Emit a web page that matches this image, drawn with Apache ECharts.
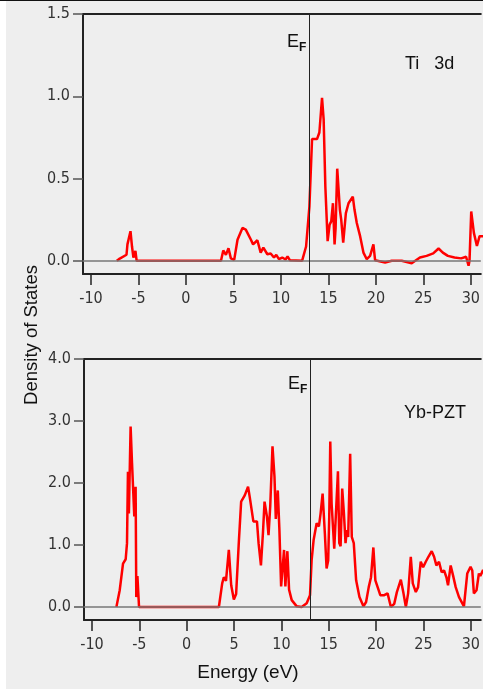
<!DOCTYPE html>
<html>
<head>
<meta charset="utf-8">
<script src="https://cdn.jsdelivr.net/npm/echarts@6/dist/echarts.min.js"></script>
<style>html,body{margin:0;padding:0;background:#fff}#c{width:483px;height:691px}</style>
</head>
<body>
<div id="c"></div>
<script>
// ---- data ----
const xTicks = [-10, -5, 0, 5, 10, 15, 20, 25, 30];
const tiTicks = [0, 0.5, 1.0, 1.5];
const ybTicks = [0, 1.0, 2.0, 3.0, 4.0];
const fermiEnergy = 13.0;

const tiEnergy = [-7.28,-7.06,-6.26,-6.16,-5.84,-5.68,-5.53,-5.32,-5.19,3.69,3.93,4.21,4.48,4.73,5.08,5.43,5.95,6.3,6.83,7.07,7.52,7.87,8.15,8.57,8.92,9.27,9.51,9.79,10.14,10.49,10.7,10.94,12.23,12.65,13.0,13.28,13.45,13.8,14.05,14.33,14.5,14.68,14.92,15.13,15.3,15.48,15.65,15.76,15.93,16.07,16.21,16.35,16.56,16.84,17.12,17.33,17.57,17.75,17.99,18.34,18.69,19.04,19.39,19.74,19.92,20.97,21.67,22.72,23.77,24.64,25.34,26.04,26.6,27.05,27.58,28.28,28.98,29.5,29.76,29.86,30.04,30.32,30.64,30.92,31.3];
const tiDos = [0,0.01,0.037,0.1,0.18,0.087,0.02,0.06,0,0,0.063,0.036,0.077,0.015,0.006,0.128,0.2,0.19,0.13,0.1,0.125,0.05,0.08,0.04,0.045,0.02,0.036,0.01,0.02,0.008,0.027,0.004,0,0.087,0.33,0.74,0.75,0.74,0.78,0.99,0.86,0.45,0.12,0.22,0.24,0.35,0.1,0.2,0.56,0.57,0.31,0.25,0.11,0.29,0.35,0.34,0.39,0.31,0.23,0.15,0.05,0.01,0.03,0.1,0.003,-0.01,0,0,-0.015,0.02,0.03,0.045,0.075,0.05,0.03,0.02,0.015,0.025,-0.03,0.0,0.3,0.17,0.09,0.15,0.15];

const ybEnergy = [-7.42,-7.07,-6.72,-6.44,-6.3,-6.2,-6.1,-5.92,-5.77,-5.67,-5.53,-5.39,-5.32,-5.2,-5.03,3.4,3.75,3.92,4.15,4.45,4.7,4.98,5.22,5.5,5.75,5.96,6.13,6.31,6.48,6.65,6.83,7.04,7.42,7.59,7.84,8.05,8.22,8.47,8.64,8.82,9.06,9.27,9.41,9.62,9.79,9.97,10.11,10.28,10.42,10.63,10.81,11.09,11.62,12.14,12.67,13.02,13.19,13.4,13.72,13.96,14.14,14.35,14.59,14.77,14.94,15.05,15.16,15.3,15.44,15.58,15.76,15.97,16.11,16.25,16.42,16.6,16.77,16.91,17.05,17.26,17.43,17.64,17.89,18.24,18.66,18.94,19.22,19.46,19.71,19.92,20.16,20.44,20.86,21.21,21.56,21.91,22.19,22.61,22.89,23.14,23.38,23.66,23.87,24.19,24.43,24.71,24.96,25.24,25.52,25.87,26.12,26.36,26.64,26.92,27.17,27.42,27.59,27.87,28.12,28.4,28.75,29.27,29.45,29.62,29.8,29.97,30.15,30.32,30.6,30.85,31.0,31.3];
const ybDos = [0,0.27,0.7,0.77,1.03,2.18,1.51,2.91,2.32,2.29,1.46,1.94,0.16,0.5,0,0,0.38,0.48,0.42,0.92,0.35,0.12,0.21,1.03,1.7,1.67,1.8,1.78,1.94,1.78,1.8,1.38,1.38,1.03,0.67,1.19,1.7,1.46,1.16,1.62,2.59,2.1,1.42,1.88,1.24,0.33,0.6,0.92,0.33,0.9,0.28,0.11,0.01,0,0.06,0.19,0.75,1.08,1.35,1.3,1.51,1.83,1.18,0.62,0.75,1.45,2.67,1.67,1.7,0.94,0.92,2.19,1.03,0.98,1.91,1.51,1.03,1.24,1.13,2.47,1.13,1.03,0.43,0.16,0.01,0.08,0.32,0.48,0.96,0.43,0.32,0.19,0.19,0.22,0,0.05,0.24,0.44,0.22,0,0.22,0.81,0.38,0.24,0.32,0.73,0.64,0.73,0.81,0.9,0.81,0.67,0.73,0.56,0.59,0.48,0.35,0.67,0.51,0.32,0.16,0.01,0.03,0.54,0.51,0.65,0.59,0.22,0.27,0.54,0.5,0.6];

// ---- chart ----
const numFont = '"Liberation Sans Narrow", "DejaVu Sans Condensed", "Liberation Sans", Arial, sans-serif';
const txtFont = '"Liberation Sans", Arial, sans-serif';
const XMIN = -10.84, XMAX = 31.05;

function xAxes(gi) {
  return [
    {
      type: 'value', gridIndex: gi, min: XMIN, max: XMAX, position: 'bottom',
      axisLine: { show: true, onZero: false, lineStyle: { color: '#222', width: 2 } },
      axisTick: { show: true, length: 11, customValues: xTicks, lineStyle: { color: '#222', width: 1.5 } },
      axisLabel: { customValues: xTicks, color: '#333', fontFamily: numFont, fontSize: 16, margin: 17 },
      splitLine: { show: false }
    },
    {
      type: 'value', gridIndex: gi, min: XMIN, max: XMAX, position: 'top',
      axisLine: { show: true, onZero: false, lineStyle: { color: '#222', width: 2 } },
      axisTick: { show: false }, axisLabel: { show: false }, splitLine: { show: false }
    }
  ];
}
function yAxis(gi, min, max, ticks) {
  return {
    type: 'value', gridIndex: gi, min: min, max: max,
    axisLine: { show: true, onZero: false, lineStyle: { color: '#222', width: 2 } },
    axisTick: { show: true, length: 10, customValues: ticks, lineStyle: { color: '#555', width: 1.5 } },
    axisLabel: { customValues: ticks, color: '#333', fontFamily: numFont, fontSize: 16, margin: 13,
      formatter: v => v.toFixed(1) },
    splitLine: { show: false }
  };
}
function series(xi, yi, ex, ey) {
  return {
    type: 'line', xAxisIndex: xi, yAxisIndex: yi, showSymbol: false, symbol: 'none',
    data: ex.map((e, i) => [e, ey[i]]),
    lineStyle: { color: '#ff0000', width: 2.5 }, z: 3,
    markLine: {
      silent: true, symbol: ['none', 'none'], label: { show: false }, animation: false,
      data: [
        { yAxis: 0, lineStyle: { color: '#777', width: 1.5, type: 'solid' } },
        { xAxis: fermiEnergy, lineStyle: { color: '#222', width: 1, type: 'solid' } }
      ]
    }
  };
}

const chart = echarts.init(document.getElementById('c'), null, { renderer: 'canvas' });
const efE = { fontFamily: txtFont, fontSize: 18, fill: '#111' };
const efF = { fontFamily: txtFont, fontSize: 12, fontWeight: 'bold', fill: '#111' };
chart.setOption({
  animation: false,
  backgroundColor: '#ffffff',
  grid: [
    { left: 83, top: 14, height: 260, right: 0 },
    { left: 84, top: 359, height: 261, right: 0 }
  ],
  xAxis: [...xAxes(0), ...xAxes(1)],
  yAxis: [yAxis(0, -0.08, 1.5, tiTicks), yAxis(1, -0.21, 4.0, ybTicks)],
  series: [series(0, 0, tiEnergy, tiDos), series(2, 1, ybEnergy, ybDos)],
  graphic: [
    { type: 'rect', z: -10, silent: true, shape: { x: 6, y: 1, width: 477, height: 688 }, style: { fill: '#eeeeee' } },
    { type: 'rect', z: -9, silent: true, shape: { x: 0, y: 0, width: 483, height: 1 }, style: { fill: '#111' } },
    { type: 'text', left: 287, top: 33, style: Object.assign({ text: 'E' }, efE) },
    { type: 'text', left: 299, top: 42, style: Object.assign({ text: 'F' }, efF) },
    { type: 'text', left: 288, top: 375, style: Object.assign({ text: 'E' }, efE) },
    { type: 'text', left: 300, top: 384, style: Object.assign({ text: 'F' }, efF) },
    { type: 'text', left: 405, top: 55, style: { text: 'Ti   3d', fontFamily: txtFont, fontSize: 18, fill: '#111' } },
    { type: 'text', left: 404, top: 404, style: { text: 'Yb-PZT', fontFamily: txtFont, fontSize: 18, fill: '#111' } },
    { type: 'text', x: 248, y: 673, style: { text: 'Energy (eV)', fontFamily: txtFont, fontSize: 19, fill: '#111', align: 'center', verticalAlign: 'middle' } },
    { type: 'text', x: 32, y: 335, rotation: Math.PI / 2, style: { text: 'Density of States', fontFamily: txtFont, fontSize: 18.5, fill: '#111', align: 'center', verticalAlign: 'middle' } }
  ]
});
</script>
</body>
</html>
